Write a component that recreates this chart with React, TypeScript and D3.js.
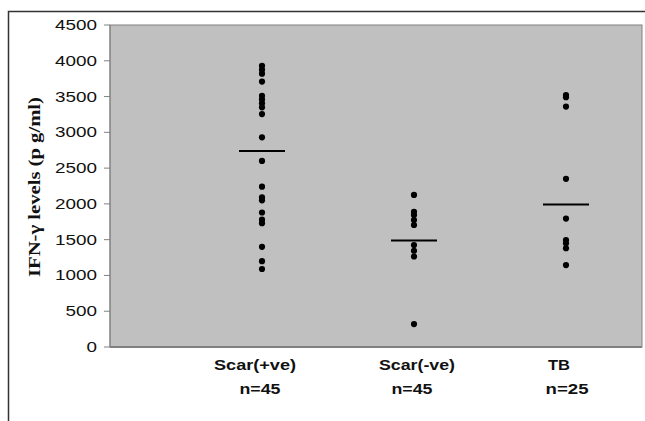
import React from "react";
import * as d3 from "d3";

const categories = ["Scar(+ve)", "Scar(-ve)", "TB"];
const groupSizes = ["n=45", "n=45", "n=25"];
const scarPos = [3930, 3875, 3820, 3710, 3510, 3460, 3405, 3350, 3255, 2930, 2600, 2240, 2090, 2050, 1880, 1780, 1730, 1400, 1200, 1090];
const scarNeg = [2125, 1890, 1845, 1775, 1705, 1425, 1345, 1265, 320];
const tb = [3520, 3490, 3360, 2350, 1795, 1495, 1450, 1380, 1145];
const seriesValues = [scarPos, scarNeg, tb];
const means = [2740, 1490, 1990];
const yTicks = [0, 500, 1000, 1500, 2000, 2500, 3000, 3500, 4000, 4500];

const labelOffsets = [-7, 3, -7];
const labelWidths = [82, 76, 22];
const nOffsets = [-2, -2, 1];
const nWidths = [41, 41, 43];

export default function App() {
  const W = 645, H = 421;
  const left = 110, right = 642, top = 25, bottom = 347;
  const x = d3.scaleLinear().domain([0, 3.5]).range([left, right]);
  const y = d3.scaleLinear().domain([0, 4500]).range([bottom, top]);
  return (
    <svg width={W} height={H} style={{ position: "absolute", left: 0, top: 0 }}>
      <rect x={0} y={0} width={W} height={H} fill="#fff" />
      <path d={`M8.5,${H + 5} V11.5 H${W + 5}`} fill="none" stroke="#333" strokeWidth={1.5} />
      <rect x={left} y={top} width={right - left} height={bottom - top} fill="#c0c0c0" stroke="#808080" strokeWidth={1} />
      <line x1={left} x2={right} y1={bottom} y2={bottom} stroke="#808080" strokeWidth={2} />
      <line x1={left} x2={left} y1={top} y2={bottom} stroke="#808080" strokeWidth={1} />
      {yTicks.map((t) => (
        <g key={t}>
          <line x1={left - 6} x2={left} y1={y(t)} y2={y(t)} stroke="#808080" />
          <text
            x={97}
            y={y(t) + 5}
            textAnchor="end"
            fontFamily="Liberation Sans, Arial, sans-serif"
            fontSize={14}
            textLength={String(t).length * 10.5}
            lengthAdjust="spacingAndGlyphs"
            fill="#111"
          >
            {t}
          </text>
        </g>
      ))}
      <text
        transform={`translate(40,187) rotate(-90)`}
        textAnchor="middle"
        fontFamily="Liberation Serif, Times New Roman, serif"
        fontWeight="bold"
        fontSize={17}
        textLength={180}
        lengthAdjust="spacingAndGlyphs"
        fill="#111"
      >
        IFN-γ levels (p g/ml)
      </text>
      {seriesValues.map((vals, i) => (
        <g key={i}>
          {vals.map((v, j) => (
            <circle key={j} cx={x(i + 1)} cy={y(v)} r={3.1} fill="#000" />
          ))}
          <line x1={x(i + 1) - 23} x2={x(i + 1) + 23} y1={y(means[i])} y2={y(means[i])} stroke="#000" strokeWidth={2} />
        </g>
      ))}
      {categories.map((c, i) => (
        <g key={c} fontFamily="Liberation Sans, Arial, sans-serif" fontWeight="bold" fontSize={15} fill="#111">
          <text
            x={x(i + 1) + labelOffsets[i]}
            y={370}
            textAnchor="middle"
            textLength={labelWidths[i]}
            lengthAdjust="spacingAndGlyphs"
          >
            {c}
          </text>
          <text
            x={x(i + 1) + nOffsets[i]}
            y={394}
            textAnchor="middle"
            textLength={nWidths[i]}
            lengthAdjust="spacingAndGlyphs"
          >
            {groupSizes[i]}
          </text>
        </g>
      ))}
    </svg>
  );
}
